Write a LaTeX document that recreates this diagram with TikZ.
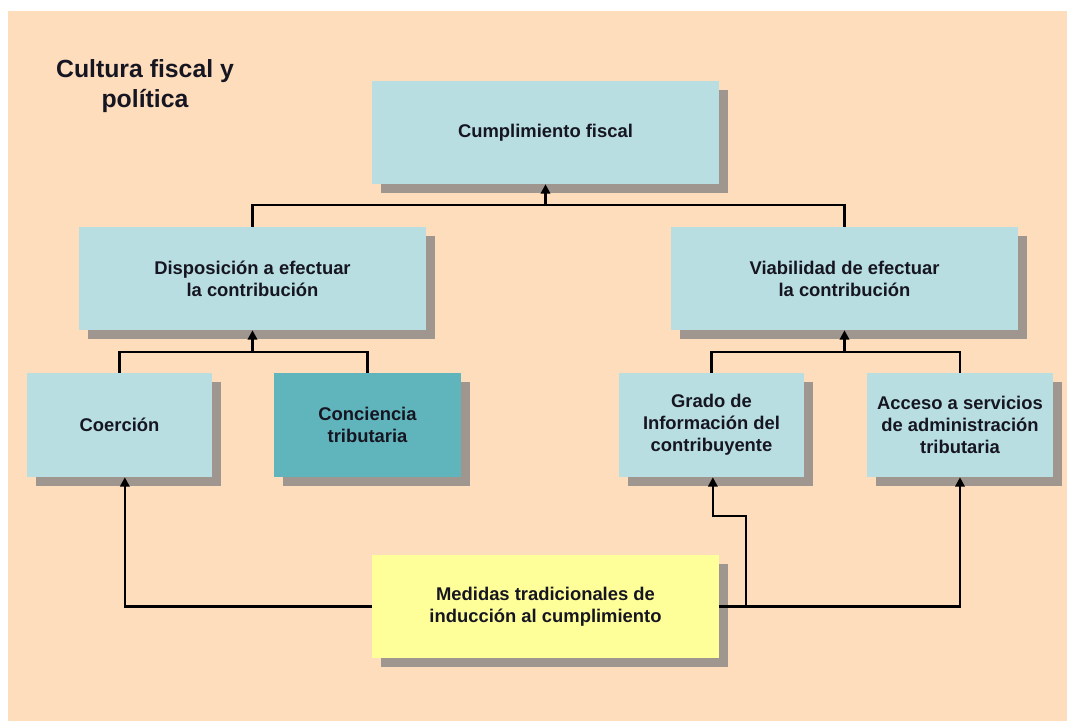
\documentclass[tikz,border=0pt]{standalone}
\usepackage{fontspec}
\setmainfont{Liberation Sans}
\usetikzlibrary{arrows.meta,shadows,calc}
\definecolor{peach}{RGB}{254,221,188}
\definecolor{lightbox}{RGB}{184,222,225}
\definecolor{darkbox}{RGB}{96,180,188}
\definecolor{yellowbox}{RGB}{255,255,153}
\definecolor{shadowgray}{RGB}{160,150,144}
\definecolor{txt}{RGB}{22,22,34}
\begin{document}
\begin{tikzpicture}[x=0.75pt,y=-0.75pt,
  box/.style={rectangle, inner sep=2pt, align=center, text=txt,
    font=\bfseries\fontsize{13.8}{16.4}\selectfont,
    drop shadow={shadow xshift=6.75pt, shadow yshift=-6.75pt, fill=shadowgray, opacity=1}},
  lbox/.style={box, fill=lightbox},
  dbox/.style={box, fill=darkbox},
  ybox/.style={box, fill=yellowbox},
  conn/.style={line width=1.7pt, draw=black},
  arr/.style={conn, -{Triangle[width=7pt,length=7pt]}}
]
\useasboundingbox (0,0) rectangle (1067,721);
\fill[peach] (8,11) rectangle (1067,721);

\node[anchor=north, align=center, inner sep=0pt, text=txt,
  font=\bfseries\fontsize{18.6}{22.5}\selectfont] (title) at (145,59.5) {Cultura fiscal y\\política};

\node[lbox, minimum width=347*0.75pt, minimum height=103*0.75pt] (cump) at (545.5,132.5) {Cumplimiento fiscal};
\node[lbox, minimum width=347*0.75pt, minimum height=103*0.75pt] (disp) at (252.5,278.5) {Disposición a efectuar\\la contribución};
\node[lbox, minimum width=347*0.75pt, minimum height=103*0.75pt] (viab) at (844.5,278.5) {Viabilidad de efectuar\\la contribución};
\node[lbox, minimum width=185*0.75pt, minimum height=104*0.75pt] (coer) at (119.5,425) {Coerción};
\node[dbox, minimum width=187*0.75pt, minimum height=104*0.75pt] (conc) at (367.5,425) {Conciencia\\tributaria};
\node[lbox, minimum width=185*0.75pt, minimum height=104*0.75pt] (grado) at (711.5,425) {Grado de\\Información del\\contribuyente};
\node[lbox, minimum width=186*0.75pt, minimum height=104*0.75pt] (acceso) at (960,425) {Acceso a servicios\\de administración\\tributaria};
\node[ybox, minimum width=347*0.75pt, minimum height=103*0.75pt] (med) at (545.5,606.5) {Medidas tradicionales de\\inducción al cumplimiento};

% top level
\coordinate (j1) at (545.5,205);
\draw[conn] (disp.north) |- (viab.north |- j1) -- (viab.north);
\draw[arr] (j1) -- (cump.south);

% left group
\coordinate (j2) at (252.5,352);
\draw[conn] (coer.north) |- (conc.north |- j2) -- (conc.north);
\draw[arr] (j2) -- (disp.south);

% right group
\coordinate (j3) at (844.5,352);
\draw[conn] (grado.north) |- (acceso.north |- j3) -- (acceso.north);
\draw[arr] (j3) -- (viab.south);

% from Medidas
\draw[arr] (med.west) -| ([xshift=4pt]coer.south);
\draw[arr] (med.east) -| (acceso.south);
\coordinate (k) at (746,606.5);
\coordinate (k2) at (746,516);
\draw[arr] (k) -- (k2) -| ([xshift=1pt]grado.south);
\end{tikzpicture}
\end{document}
